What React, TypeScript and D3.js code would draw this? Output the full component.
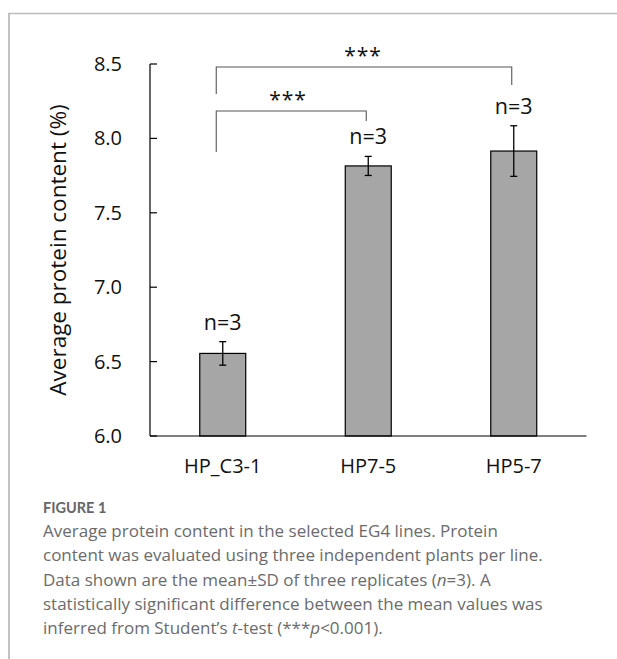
import React from "react";
import * as d3 from "d3";

const categories = ["HP_C3-1", "HP7-5", "HP5-7"];
const means = [6.555, 7.815, 7.915];
const sds = [0.079, 0.064, 0.17];
const nLabels = ["n=3", "n=3", "n=3"];
const yTicks = [6.0, 6.5, 7.0, 7.5, 8.0, 8.5];
const brackets = [
  { from: 0, to: 2, label: "***" },
  { from: 0, to: 1, label: "***" },
];
const captionLines = [
  "Average protein content in the selected EG4 lines. Protein",
  "content was evaluated using three independent plants per line.",
  "Data shown are the mean±SD of three replicates (n=3). A",
  "statistically significant difference between the mean values was",
  "inferred from Student’s t-test (***p<0.001).",
];

const W = 617;
const H = 659;
const FONT = "'Open Sans', 'Noto Sans', sans-serif";

export default function App() {
  const y = d3.scaleLinear().domain([6, 8.5]).range([436, 64]);
  const x = d3
    .scaleBand<string>()
    .domain(categories)
    .range([150, 586.5])
    .paddingInner(0.684)
    .paddingOuter(0.342);
  const bw = x.bandwidth();
  const cx = (i: number) => (x(categories[i]) as number) + bw / 2;

  const bracketY = [67, 111];
  const bracketLeftEnd = [94, 152];
  const bracketRightEnd = [85, 121];

  const renderCaption = (line: string, i: number) => {
    const yy = 537 + i * 24.3;
    if (i === 2) {
      const parts = line.split("(n=3)");
      return (
        <text key={i} x={43} y={yy}>
          {parts[0]}(<tspan fontStyle="italic">n</tspan>=3){parts[1]}
        </text>
      );
    }
    if (i === 4) {
      return (
        <text key={i} x={43} y={yy}>
          inferred from Student’s <tspan fontStyle="italic">t</tspan>-test (***
          <tspan fontStyle="italic">p</tspan>&lt;0.001).
        </text>
      );
    }
    return (
      <text key={i} x={43} y={yy}>
        {line}
      </text>
    );
  };

  return (
    <svg
      width={W}
      height={H}
      style={{ position: "absolute", left: 0, top: 0, background: "#fff" }}
      fontFamily={FONT}
    >
      {/* frame */}
      <line x1={9} x2={W} y1={13.5} y2={13.5} stroke="#bdbdbd" strokeWidth={1.5} />
      <line x1={9} x2={9} y1={13} y2={H} stroke="#9a9a9a" strokeWidth={1.2} />

      {/* y axis */}
      <line x1={150} x2={150} y1={y(8.5)} y2={y(6)} stroke="#000" strokeWidth={1.2} />
      {yTicks.map((t) => (
        <g key={t}>
          <line x1={150} x2={157} y1={y(t)} y2={y(t)} stroke="#000" strokeWidth={1.2} />
          <text
            x={122}
            y={y(t)}
            dy="0.35em"
            textAnchor="end"
            fontSize={20}
            fill="#111"
          >
            {t.toFixed(1)}
          </text>
        </g>
      ))}
      <text
        transform={`translate(66,250) rotate(-90)`}
        textAnchor="middle"
        fontSize={22.5}
        fill="#111"
      >
        Average protein content (%)
      </text>

      {/* bars */}
      {categories.map((c, i) => (
        <g key={c}>
          <rect
            x={x(c)}
            y={y(means[i])}
            width={bw}
            height={y(6) - y(means[i])}
            fill="#a6a6a6"
            stroke="#000"
            strokeWidth={1.2}
          />
          <line
            x1={cx(i)}
            x2={cx(i)}
            y1={y(means[i] + sds[i])}
            y2={y(means[i] - sds[i])}
            stroke="#000"
            strokeWidth={1.3}
          />
          <line
            x1={cx(i) - 3.5}
            x2={cx(i) + 3.5}
            y1={y(means[i] + sds[i])}
            y2={y(means[i] + sds[i])}
            stroke="#000"
            strokeWidth={1.3}
          />
          <line
            x1={cx(i) - 3.5}
            x2={cx(i) + 3.5}
            y1={y(means[i] - sds[i])}
            y2={y(means[i] - sds[i])}
            stroke="#000"
            strokeWidth={1.3}
          />
          <text
            x={cx(i)}
            y={y(means[i] + sds[i]) - 12}
            textAnchor="middle"
            fontSize={21.5}
            fill="#111"
          >
            {nLabels[i]}
          </text>
          <text x={cx(i)} y={473} textAnchor="middle" fontSize={20} fill="#111">
            {c}
          </text>
        </g>
      ))}

      {/* x axis */}
      <line x1={150} x2={586.5} y1={y(6)} y2={y(6)} stroke="#000" strokeWidth={1.2} />

      {/* significance brackets */}
      {brackets.map((b, k) => {
        const x1 = cx(b.from) - 6.5;
        const x2 = cx(b.to) - 2;
        return (
          <g key={k}>
            <path
              d={`M${x1},${bracketLeftEnd[k]}V${bracketY[k]}H${x2}V${bracketRightEnd[k]}`}
              fill="none"
              stroke="#555"
              strokeWidth={1.1}
            />
            <text
              x={k === 0 ? 363 : 288}
              y={bracketY[k] - 4}
              textAnchor="middle"
              fontSize={21}
              letterSpacing={1}
              fill="#111"
            >
              {b.label}
            </text>
          </g>
        );
      })}

      {/* caption */}
      <text x={43} y={513} fontSize={14.5} fontWeight={700} fill="#666" fontFamily="Lato, sans-serif">
        FIGURE 1
      </text>
      <g fontSize={17} fill="#6b6b6b" fontFamily={FONT}>
        {captionLines.map(renderCaption)}
      </g>
    </svg>
  );
}
